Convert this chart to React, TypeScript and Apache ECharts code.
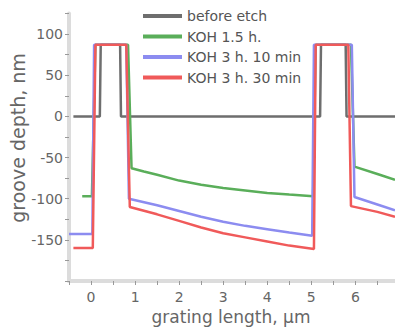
import React, { useEffect, useRef } from "react";
import * as echarts from "echarts";

const seriesNames = ["before etch", "KOH 1.5 h.", "KOH 3 h. 10 min", "KOH 3 h. 30 min"];
const seriesColors = ["#6e6e6e", "#5aae5a", "#8c8cf0", "#f05a5a"];

const beforeEtch: [number, number][] = [
  [-0.4, 0], [0.2, 0], [0.22, 87], [0.66, 87], [0.68, 0],
  [5.2, 0], [5.22, 87], [5.78, 87], [5.8, 0], [6.9, 0],
];

const koh15: [number, number][] = [
  [-0.2, -97], [0.02, -97], [0.1, 87], [0.84, 87], [0.92, -63],
  [1.2, -67], [1.5, -71], [2, -78], [2.5, -83], [3, -87], [3.5, -90],
  [4, -93], [4.5, -95], [5.04, -97], [5.1, 87], [5.9, 87], [5.98, -61],
  [6.5, -70], [6.9, -77],
];

const koh310: [number, number][] = [
  [-0.5, -143], [0.03, -143], [0.07, 87], [0.8, 87], [0.86, -100],
  [1.5, -108], [2, -115], [2.5, -122], [3, -128], [3.5, -133],
  [4, -137], [4.5, -141], [5.02, -145], [5.06, 87], [5.92, 87], [5.98, -98],
  [6.5, -107], [6.9, -114],
];

const koh330: [number, number][] = [
  [-0.4, -160], [0.04, -160], [0.1, 87], [0.8, 87], [0.88, -110],
  [1.5, -119], [2, -127], [2.5, -135], [3, -142], [3.5, -147],
  [4, -152], [4.5, -157], [5.06, -161], [5.1, 87], [5.84, 87], [5.9, -109],
  [6.5, -116], [6.9, -122],
];

const allData = [beforeEtch, koh15, koh310, koh330];

const yLabelValues = [-150, -100, -50, 0, 50, 100];
const xLabelValues = [0, 1, 2, 3, 4, 5, 6];

const FONT = "DejaVu Sans";

export default function App() {
  const ref = useRef<HTMLDivElement>(null);
  useEffect(() => {
    if (!ref.current) return;
    const chart = echarts.init(ref.current, undefined, { renderer: "svg" });
    chart.setOption({
      animation: false,
      backgroundColor: "#ffffff",
      grid: { left: 69, right: 0, top: 13.5, bottom: 47, containLabel: false },
      legend: {
        orient: "vertical",
        left: 143,
        top: 9,
        padding: 0,
        itemWidth: 39,
        itemHeight: 4,
        itemGap: 6.5,
        icon: "rect",
        data: seriesNames,
        textStyle: { fontFamily: FONT, fontSize: 14, color: "#555" },
      },
      xAxis: {
        type: "value",
        min: -0.5,
        max: 6.9,
        interval: 0.5,
        axisLine: { show: true, onZero: false, lineStyle: { color: "#dcdcdc", width: 4 } },
        axisTick: { show: true, length: 4, lineStyle: { color: "#999", width: 1 } },
        splitLine: { show: false },
        axisLabel: {
          fontFamily: FONT,
          fontSize: 14,
          color: "#666",
          margin: 9,
          showMaxLabel: false,
          formatter: (v: number) => (xLabelValues.includes(v) ? String(v) : ""),
        },
      },
      yAxis: {
        type: "value",
        min: -200,
        max: 125,
        interval: 25,
        axisLine: { show: true, onZero: false, lineStyle: { color: "#dcdcdc", width: 4 } },
        axisTick: { show: true, length: 4, lineStyle: { color: "#999", width: 1 } },
        splitLine: { show: false },
        axisLabel: {
          fontFamily: FONT,
          fontSize: 14,
          color: "#666",
          margin: 6,
          formatter: (v: number) => (yLabelValues.includes(v) ? String(v) : ""),
        },
      },
      graphic: [
        {
          type: "text",
          x: 18,
          y: 138,
          rotation: Math.PI / 2,
          style: {
            text: "groove depth, nm",
            fontFamily: FONT,
            fontSize: 19,
            fill: "#666",
            align: "center",
            verticalAlign: "middle",
          },
        },
        {
          type: "text",
          x: 231,
          y: 317,
          style: {
            text: "grating length, μm",
            fontFamily: FONT,
            fontSize: 17,
            fill: "#666",
            align: "center",
            verticalAlign: "middle",
          },
        },
      ],
      series: allData.map((d, i) => ({
        name: seriesNames[i],
        type: "line",
        data: d,
        showSymbol: false,
        symbol: "none",
        color: seriesColors[i],
        lineStyle: { width: 2.5, color: seriesColors[i] },
        clip: true,
      })),
    });
    return () => chart.dispose();
  }, []);
  return <div ref={ref} style={{ width: 395, height: 328, position: "absolute", left: 0, top: 0 }} />;
}
